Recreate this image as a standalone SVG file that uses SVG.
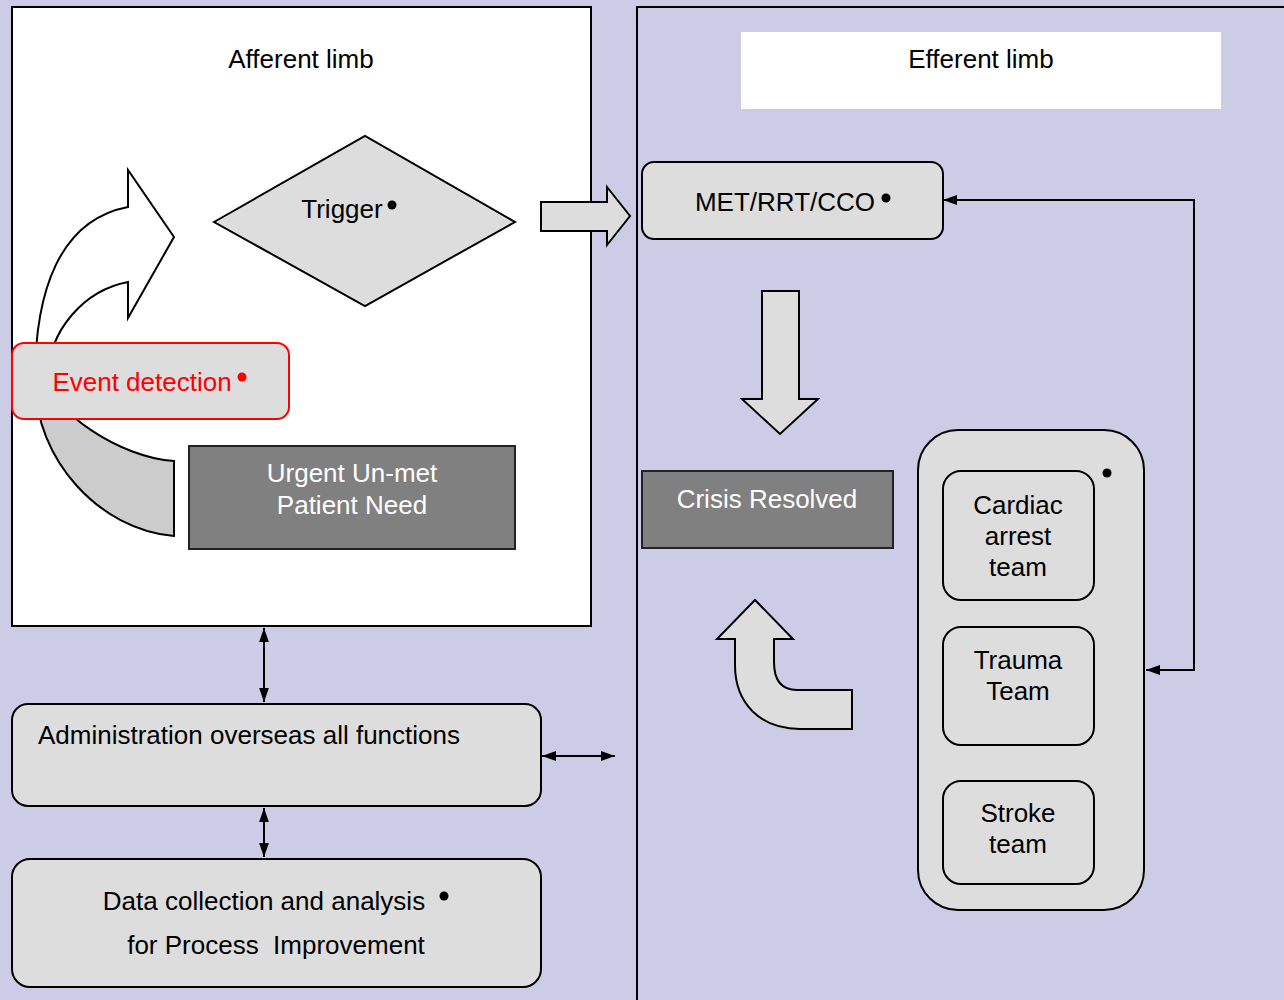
<svg xmlns="http://www.w3.org/2000/svg" width="1284" height="1000" viewBox="0 0 1284 1000">
<style>
text{font-family:"Liberation Sans",Arial,sans-serif;font-size:26px;fill:#000;text-anchor:middle}
.box{fill:#DDDDDD;stroke:#000;stroke-width:2}
.dark{fill:#808080;stroke:#222;stroke-width:2}
.wt{fill:#fff}
.ln{fill:none;stroke:#000;stroke-width:2}
</style>
<defs>
<marker id="ah2" viewBox="0 0 10 10" refX="10" refY="5" markerWidth="14" markerHeight="14" markerUnits="userSpaceOnUse" orient="auto-start-reverse"><path d="M0,1.5 L10,5 L0,8.5 Z" fill="#000"/></marker>
<linearGradient id="cg" gradientUnits="userSpaceOnUse" x1="0" y1="170" x2="0" y2="537"><stop offset="0.57" stop-color="#fff"/><stop offset="0.57" stop-color="#CCCCCC"/></linearGradient>
</defs>
<rect x="0" y="0" width="1284" height="1000" fill="#CCCCE6"/>
<g id="afferent-panel"><rect x="12" y="7" width="579" height="619" fill="#fff" stroke="#000" stroke-width="2"/><text x="301" y="68">Afferent limb</text></g>
<g id="efferent-panel"><rect x="637" y="7" width="660" height="1010" fill="#CCCCE6" stroke="#000" stroke-width="2"/><rect x="741" y="32" width="480" height="77" fill="#fff"/><text x="981" y="68">Efferent limb</text></g>
<g id="cycle-arrow"><path d="M174,536 C100,530 35,460 35,380 C35,290 60,220 128,207 L128,170 L174,237 L128,318 L128,282 C85,290 48,330 48,378 C50,410 120,458 174,461 Z" fill="url(#cg)" stroke="#000" stroke-width="2"/></g>
<g id="event-detection"><rect x="12" y="343" width="277" height="76" rx="12" fill="#DDDDDD" stroke="#FF0000" stroke-width="2"/><text x="142" y="391" style="fill:#FF0000">Event detection</text><circle cx="242" cy="377" r="4.5" fill="#FF0000"/></g>
<g id="trigger"><path d="M214,222 L365,136 L515,222 L365,306 Z" class="box"/><text x="342" y="218">Trigger</text><circle cx="392" cy="205" r="4.5"/></g>
<g id="urgent-need"><rect x="189" y="446" width="326" height="103" class="dark"/><text x="352" y="482" class="wt">Urgent Un-met</text><text x="352" y="514" class="wt">Patient Need</text></g>
<g id="right-arrow"><path d="M541,202 L607,202 L607,187 L630,216 L607,245 L607,231 L541,231 Z" class="box"/></g>
<g id="met"><rect x="642" y="162" width="301" height="77" rx="12" class="box"/><text x="785" y="211">MET/RRT/CCO</text><circle cx="886" cy="198" r="4.5"/></g>
<g id="down-arrow"><path d="M762,291 L799,291 L799,399 L818,399 L780,434 L742,399 L762,399 Z" class="box"/></g>
<g id="crisis-resolved"><rect x="642" y="471" width="251" height="77" class="dark"/><text x="767" y="508" class="wt">Crisis Resolved</text></g>
<g id="uturn-arrow"><path d="M852,729 L800,729 C760,729 735,703 735,665 L735,639 L717,639 L755,600 L793,639 L774,639 L774,662 C774,680 781,690 797,690 L852,690 Z" class="box"/></g>
<g id="teams"><rect x="918" y="430" width="226" height="480" rx="40" class="box"/><circle cx="1107" cy="473" r="4.5"/>
<g id="cardiac"><rect x="943" y="471" width="151" height="129" rx="18" class="box"/><text x="1018" y="514">Cardiac</text><text x="1018" y="545">arrest</text><text x="1018" y="576">team</text></g>
<g id="trauma"><rect x="943" y="627" width="151" height="118" rx="18" class="box"/><text x="1018" y="669">Trauma</text><text x="1018" y="700">Team</text></g>
<g id="stroke"><rect x="943" y="781" width="151" height="103" rx="18" class="box"/><text x="1018" y="822">Stroke</text><text x="1018" y="853">team</text></g>
</g>
<g id="admin"><rect x="12" y="704" width="529" height="102" rx="16" class="box"/><text x="38" y="744" style="text-anchor:start">Administration overseas all functions</text></g>
<g id="data"><rect x="12" y="859" width="529" height="128" rx="18" class="box"/><text x="264" y="910">Data collection and analysis</text><circle cx="444" cy="896" r="4.5"/><text x="276" y="954" xml:space="preserve" style="white-space:pre">for Process  Improvement</text></g>
<g id="connectors">
<path d="M943,200 L1194,200 L1194,670 L1146,670" class="ln" marker-start="url(#ah2)" marker-end="url(#ah2)"/>
<path d="M264,628 L264,702" class="ln" marker-start="url(#ah2)" marker-end="url(#ah2)"/>
<path d="M264,808 L264,857" class="ln" marker-start="url(#ah2)" marker-end="url(#ah2)"/>
<path d="M542,756 L615,756" class="ln" marker-start="url(#ah2)" marker-end="url(#ah2)"/>
</g>
</svg>
